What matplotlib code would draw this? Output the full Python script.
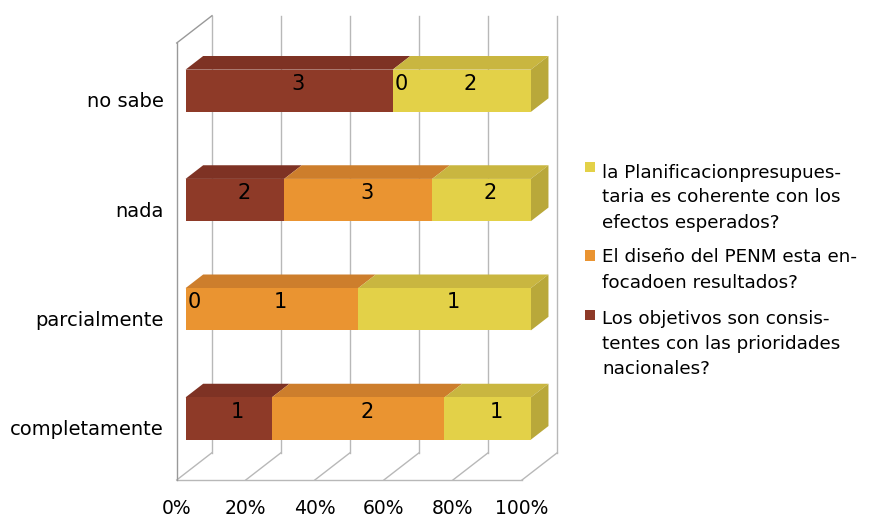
import matplotlib
matplotlib.use("Agg")
import matplotlib.pyplot as plt
from matplotlib.patches import Polygon, Rectangle

# Survey answers (counts) per response category, bottom to top
categories = ["completamente", "parcialmente", "nada", "no sabe"]
objetivos = [1, 0, 2, 3]      # Los objetivos son consistentes ...
diseno = [2, 1, 3, 0]         # El diseño del PENM ...
planificacion = [1, 1, 2, 2]  # la Planificacion presupuestaria ...

series = [objetivos, diseno, planificacion]
series_labels = [
    "Los objetivos son consis-\ntentes con las prioridades\nnacionales?",
    "El diseño del PENM esta en-\nfocadoen resultados?",
    "la Planificacionpresupues-\ntaria es coherente con los\nefectos esperados?",
]
front_colors = ["#8E3A28", "#EA9431", "#E3D148"]
top_colors = ["#7E3224", "#CD7E2C", "#C9B640"]
side_colors = ["#70301F", "#B86F26", "#B9A83A"]

x_ticks = [0, 20, 40, 60, 80, 100]
x_ticklabels = ["0%", "20%", "40%", "60%", "80%", "100%"]

W, H = 871, 518
fig = plt.figure(figsize=(W / 100, H / 100), dpi=100)
plt.rcParams["font.family"] = ["DejaVu Sans"]

# front plane of the 3D box in figure pixels
x0_px, x1_px = 176.7, 522.0
y_top_px, y_bot_px = 43.0, 480.0
ax = fig.add_axes([x0_px / W, (H - y_bot_px) / H,
                   (x1_px - x0_px) / W, (y_bot_px - y_top_px) / H])
ax.set_xlim(0, 100)
ax.set_ylim(0, len(categories))
for s in ax.spines.values():
    s.set_visible(False)
ax.set_facecolor("none")

# oblique depth offset (data units per full depth)
DX = 10.22
DY = 0.25

grid_c = "#B8B8B8"
frame_c = "#999999"
lw = 1.0
ny = len(categories)

# back wall gridlines and floor lines
for t in x_ticks:
    ax.plot([t + DX, t + DX], [DY, ny + DY], color=grid_c, lw=lw, clip_on=False, zorder=1)
    ax.plot([t, t + DX], [0, DY], color=grid_c, lw=lw, clip_on=False, zorder=1)
# floor front edge and left wall
ax.plot([0, 100], [0, 0], color=grid_c, lw=lw, clip_on=False, zorder=1)
ax.plot([0, 0], [0, ny], color=frame_c, lw=lw, clip_on=False, zorder=1)
ax.plot([0, DX], [ny, ny + DY], color=frame_c, lw=lw, clip_on=False, zorder=1)

# stacked 100% bars with depth
bar_h = 0.387
d0, d1 = 0.25, 0.75
for i, cat in enumerate(categories):
    total = sum(s[i] for s in series)
    left = 0.0
    last_right = None
    for k, s in enumerate(series):
        w = 100.0 * s[i] / total
        yc = i + 0.5
        if w > 0:
            ax.barh(yc + d0 * DY, w, left=left + d0 * DX, height=bar_h,
                    color=front_colors[k], zorder=3, clip_on=False)
            ytop_f = yc + d0 * DY + bar_h / 2
            top = Polygon([(left + d0 * DX, ytop_f),
                           (left + w + d0 * DX, ytop_f),
                           (left + w + d1 * DX, ytop_f + (d1 - d0) * DY),
                           (left + d1 * DX, ytop_f + (d1 - d0) * DY)],
                          closed=True, facecolor=top_colors[k], edgecolor="none",
                          zorder=2, clip_on=False)
            ax.add_patch(top)
            last_right = (left + w, k)
        ax.text(left + w / 2 + 0.5 * DX, yc + 0.5 * DY, str(s[i]),
                ha="center", va="center", fontsize=15, color="black", zorder=5)
        left += w
    if last_right is not None:
        xr, k = last_right
        yb = i + 0.5 + d0 * DY - bar_h / 2
        yt = yb + bar_h
        side = Polygon([(xr + d0 * DX, yb), (xr + d0 * DX, yt),
                        (xr + d1 * DX, yt + (d1 - d0) * DY),
                        (xr + d1 * DX, yb + (d1 - d0) * DY)],
                       closed=True, facecolor=side_colors[k], edgecolor="none",
                       zorder=2, clip_on=False)
        ax.add_patch(side)

ax.set_xticks(x_ticks)
ax.set_xticklabels(x_ticklabels, fontsize=13.5)
ax.set_yticks([i + 0.48 for i in range(ny)])
ax.set_yticklabels(categories, fontsize=14)
ax.tick_params(axis="x", length=0, pad=13.5)
ax.tick_params(axis="y", length=0, pad=9.5)

# legend (top entry is the last series)
leg_x_sq = 584.5 / W
leg_x_txt = 602.0 / W
sq = 10.5
entry_tops = [163.5, 248.5, 310.0]
sq_centers = [167.0, 255.5, 315.0]
for j, k in enumerate([2, 1, 0]):
    fig.patches.append(Rectangle((leg_x_sq, (H - sq_centers[j] - sq / 2) / H),
                                 sq / W, sq / H, transform=fig.transFigure,
                                 facecolor=front_colors[k], edgecolor="none"))
    fig.text(leg_x_txt, (H - entry_tops[j]) / H, series_labels[k],
             ha="left", va="top", fontsize=13.2, linespacing=1.5)

fig.savefig("out.png", dpi=100)
